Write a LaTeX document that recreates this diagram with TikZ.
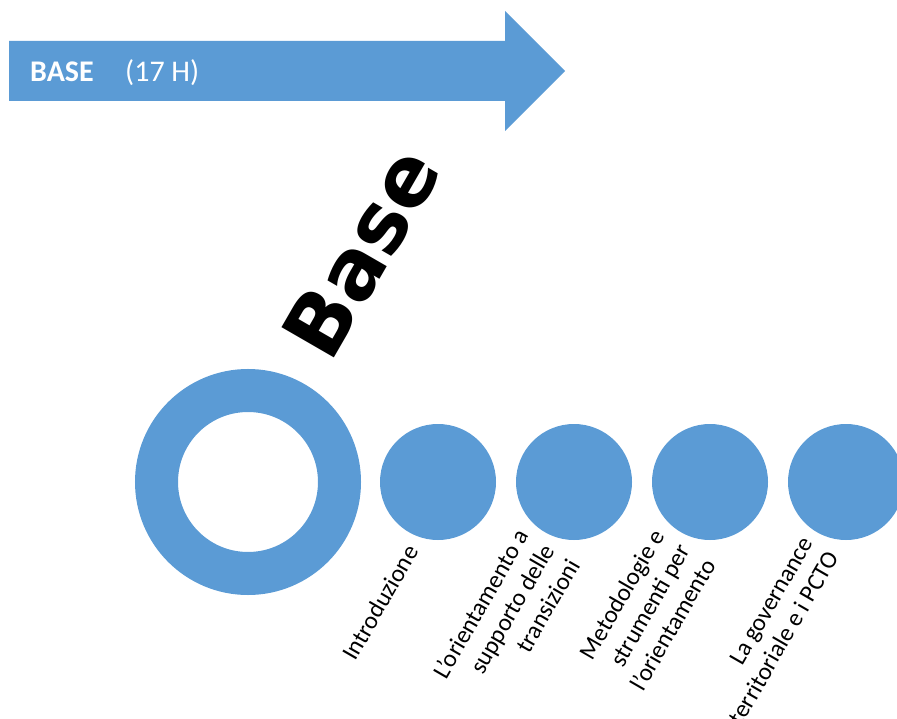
\documentclass[tikz,border=0pt]{standalone}
\usepackage{fontspec}
\setmainfont{Carlito}
\newfontfamily\bigfont{DejaVu Sans}
\definecolor{accent}{HTML}{5B9BD5}
\begin{document}
\begin{tikzpicture}[x=1pt,y=-1pt,
  lbl/.style={rotate=60, anchor=east, align=right, font=\fontsize{24.5}{29.5}\selectfont, inner sep=0pt},
  dot/.style={circle, fill=accent, minimum size=116pt, inner sep=0pt},
  arrtxt/.style={anchor=base west, text=white, inner sep=0pt}]
\useasboundingbox (0,0) rectangle (897,719);
\clip (0,0) rectangle (897,719);
\fill[accent] (9,41) -- (505,41) -- (505,11) -- (565,71) -- (505,131) -- (505,101) -- (9,101) -- cycle;
\node[arrtxt, font=\bfseries\fontsize{30}{36}\selectfont] (t1) at (30,82) {BASE};
\node[arrtxt, font=\fontsize{30}{36}\selectfont] (t2) at (125,82) {(17 H)};
\node[rotate=60, anchor=base, inner sep=0pt, font=\bigfont\bfseries\fontsize{83}{90}\selectfont] (bt) at (387,267) {Base};
\node[circle, draw=accent, line width=43pt, minimum size=183pt, inner sep=0pt] (c0) at (248,482) {};
\node[dot] (c1) at (438,482) {};
\node[dot] (c2) at (574,482) {};
\node[dot] (c3) at (710,482) {};
\node[dot] (c4) at (846,482) {};
\node[lbl] (l1) at (412,547) {Introduzione};
\node[lbl] (l2) at (548,546) {L'orientamento a\\supporto delle\\transizioni};
\node[lbl] (l3) at (684,546) {Metodologie e\\strumenti per\\l'orientamento};
\node[lbl] (l4) at (820,546) {La governance\\territoriale e i PCTO};
\end{tikzpicture}
\end{document}
